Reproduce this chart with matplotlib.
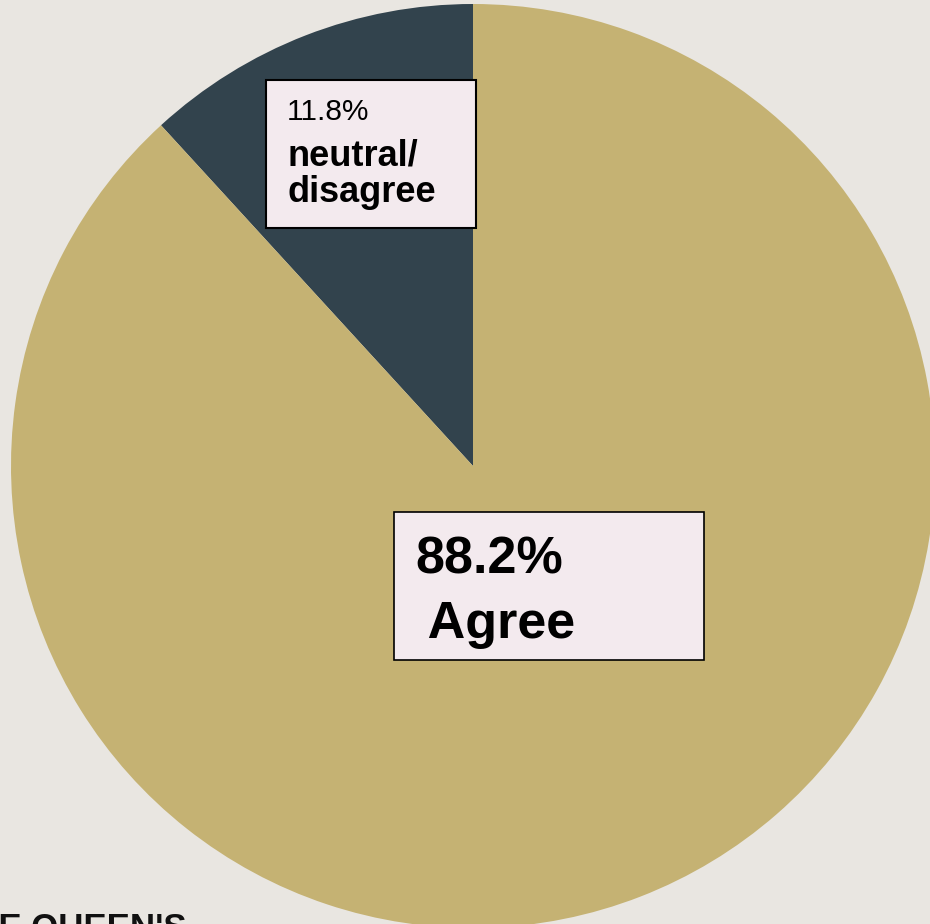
import matplotlib.pyplot as plt
from matplotlib.patches import Rectangle

# survey split, dark slice first so it sits just left of 12 o'clock
labels = ["neutral/\ndisagree", "Agree"]
shares = [11.8, 88.2]
colors = ["#32434D", "#C5B273"]

W, H = 930, 924
bg = "#E9E6E1"
box_face = "#F3EAEE"

fig = plt.figure(figsize=(W / 100, H / 100), dpi=100, facecolor=bg)
ax = fig.add_axes([0, 0, 1, 1])
ax.set_facecolor(bg)

# pie centre / radius in pixel units (y measured from the bottom)
cx, cy, r = 473, H - 466, 462
ax.pie(shares, colors=colors, startangle=90, counterclock=True,
       center=(cx, cy), radius=r, frame=True,
       wedgeprops=dict(linewidth=0))

ax.set_xlim(0, W)
ax.set_ylim(0, H)
ax.set_aspect("equal")
ax.axis("off")

font = ["Liberation Sans", "DejaVu Sans"]


def py(y):
    return H - y


# small label box over the dark slice
ax.add_patch(Rectangle((266, py(228)), 210, 148, facecolor=box_face,
                       edgecolor="black", linewidth=1.5, zorder=3))
ax.text(287, py(120), f"{shares[0]}%", fontsize=21.5, family=font,
        va="baseline", ha="left", zorder=4)
ax.text(287, py(165), labels[0].split("\n")[0], fontsize=26,
        fontweight="bold", family=font, va="baseline", ha="left", zorder=4)
ax.text(287, py(202), labels[0].split("\n")[1], fontsize=26,
        fontweight="bold", family=font, va="baseline", ha="left", zorder=4)

# big label box over the gold slice
ax.add_patch(Rectangle((394, py(660)), 310, 148, facecolor=box_face,
                       edgecolor="black", linewidth=1.2, zorder=3))
ax.text(415, py(573), f"{shares[1]}%", fontsize=37.5, fontweight="bold",
        family=font, va="baseline", ha="left", zorder=4)
ax.text(415, py(638), " " + labels[1], fontsize=37.5, fontweight="bold",
        family=font, va="baseline", ha="left", zorder=4)

# clipped logo text in the corner
ax.text(187, py(912), "THE QUEEN'S", fontsize=25, fontweight="heavy",
        family=font, va="top", ha="right", color="#111111", zorder=4)

fig.savefig("out.png", dpi=100, facecolor=bg)
